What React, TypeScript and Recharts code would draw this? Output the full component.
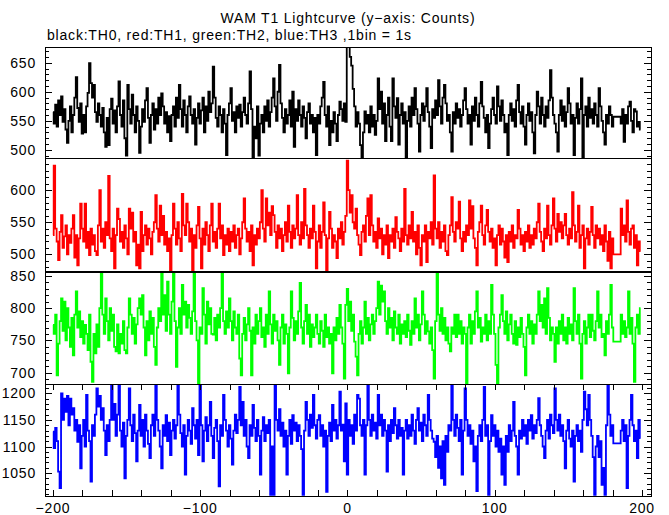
import React from 'react';
import { LineChart, Line, XAxis, YAxis } from 'recharts';

// WAM T1 lightcurve, 1 bin = 1 s, first bin at t = -200 s
const TIME_START = -200;

// black: TH0 counts
const TH0 = [
  565, 545, 578, 540, 585, 560, 592, 548, 570, 535, 512, 550, 575, 530, 560, 590, 625, 572, 548, 580,
  528, 560, 530, 575, 598, 649, 615, 590, 612, 565, 548, 580, 560, 540, 572, 530, 505, 555, 508, 570,
  588, 545, 568, 530, 575, 618, 560, 540, 585, 520, 490, 612, 570, 545, 595, 560, 530, 575, 550, 495,
  540, 570, 548, 585, 606, 555, 512, 560, 580, 535, 570, 545, 590, 560, 597, 575, 545, 565, 530, 558,
  515, 560, 575, 540, 590, 555, 612, 570, 540, 585, 560, 530, 575, 592, 560, 545, 570, 509, 555, 580,
  545, 568, 590, 530, 575, 550, 600, 565, 580, 643, 590, 555, 540, 575, 560, 530, 570, 545, 491, 560,
  580, 606, 550, 565, 530, 575, 555, 578, 540, 565, 590, 560, 545, 580, 635, 570, 486, 540, 520, 575,
  490, 545, 560, 530, 575, 550, 585, 540, 565, 590, 623, 575, 550, 600, 646, 580, 555, 530, 570, 545,
  560, 585, 540, 600, 505, 570, 550, 585, 560, 540, 575, 555, 520, 565, 580, 545, 560, 530, 555, 491,
  560, 545, 575, 590, 617, 560, 540, 575, 508, 550, 530, 565, 545, 515, 560, 583, 570, 550, 580, 548,
  695, 685, 660, 645, 605, 575, 540, 565, 545, 508, 486, 530, 566, 545, 560, 530, 575, 540, 560, 526,
  550, 623, 570, 600, 545, 580, 515, 560, 590, 540, 515, 623, 575, 555, 589, 509, 560, 580, 545, 565,
  486, 550, 575, 540, 590, 560, 606, 570, 545, 497, 560, 580, 550, 575, 606, 565, 540, 503, 570, 555,
  585, 560, 620, 575, 545, 590, 612, 580, 550, 560, 530, 497, 565, 545, 580, 555, 570, 540, 560, 585,
  606, 570, 545, 560, 509, 575, 550, 590, 560, 540, 580, 617, 575, 555, 530, 560, 503, 545, 570, 590,
  560, 545, 609, 575, 550, 585, 560, 530, 545, 491, 560, 580, 550, 570, 540, 585, 612, 565, 545, 575,
  540, 509, 560, 580, 550, 565, 530, 494, 560, 600, 575, 545, 590, 560, 540, 575, 555, 585, 637, 590,
  560, 545, 530, 497, 560, 585, 550, 575, 540, 565, 606, 580, 545, 560, 491, 555, 580, 545, 570, 623,
  486, 560, 575, 540, 590, 555, 570, 545, 580, 560, 540, 606, 575, 550, 530, 509, 560, 545, 575, 560,
  540, 557, 557, 557, 557, 557, 545, 570, 514, 560, 545, 575, 583, 550, 530, 570, 566, 540, 548, 535,
];

// red: TH1 counts
const TH1 = [
  530, 638, 540, 520, 491, 535, 561, 510, 528, 545, 500, 530, 518, 540, 561, 495, 530, 483, 525, 579,
  540, 520, 579, 510, 535, 499, 540, 515, 530, 505, 499, 545, 600, 520, 540, 510, 550, 530, 622, 525,
  505, 540, 478, 530, 571, 555, 520, 535, 510, 545, 525, 500, 571, 540, 565, 520, 535, 483, 515, 478,
  566, 505, 530, 545, 515, 540, 525, 500, 535, 550, 592, 540, 520, 576, 530, 560, 515, 535, 505, 525,
  473, 530, 579, 540, 515, 550, 525, 505, 594, 545, 530, 579, 550, 520, 540, 473, 530, 510, 545, 574,
  525, 478, 540, 515, 550, 530, 505, 545, 579, 520, 535, 510, 540, 579, 525, 545, 499, 530, 515, 540,
  505, 535, 520, 545, 510, 530, 540, 500, 525, 550, 587, 540, 520, 535, 505, 545, 483, 530, 515, 540,
  525, 550, 600, 540, 520, 587, 545, 565, 530, 575, 561, 535, 510, 545, 525, 540, 505, 530, 550, 520,
  576, 535, 510, 545, 525, 540, 592, 530, 515, 550, 525, 602, 545, 530, 510, 540, 525, 576, 535, 478,
  520, 545, 510, 535, 581, 530, 473, 525, 566, 540, 510, 530, 520, 494, 540, 525, 550, 515, 535, 560,
  646, 600, 565, 592, 550, 540, 571, 530, 515, 499, 535, 545, 520, 560, 587, 530, 592, 545, 520, 535,
  510, 556, 525, 540, 500, 530, 515, 545, 494, 530, 520, 540, 510, 558, 535, 525, 505, 540, 520, 602,
  530, 515, 545, 525, 566, 520, 535, 500, 545, 510, 483, 530, 520, 545, 488, 535, 525, 550, 515, 623,
  540, 525, 550, 510, 535, 520, 545, 505, 499, 530, 545, 589, 535, 520, 550, 540, 582, 525, 505, 535,
  520, 545, 530, 584, 540, 575, 525, 510, 483, 535, 550, 576, 530, 515, 545, 569, 535, 520, 540, 510,
  525, 483, 530, 545, 515, 540, 520, 495, 530, 488, 535, 520, 545, 510, 530, 525, 569, 540, 515, 530,
  505, 535, 520, 545, 510, 530, 515, 540, 525, 550, 579, 535, 520, 505, 540, 525, 576, 530, 515, 545,
  587, 540, 520, 563, 535, 550, 525, 545, 563, 530, 515, 540, 525, 597, 545, 520, 535, 576, 510, 530,
  545, 478, 525, 540, 515, 535, 574, 530, 510, 545, 525, 540, 515, 530, 505, 545, 520, 490, 535, 478,
  525, 500, 500, 500, 500, 500, 571, 530, 545, 520, 584, 535, 515, 540, 545, 510, 530, 483, 520, 505,
];

// green: TH2 counts
const TH2 = [
  774, 760, 790, 696, 745, 780, 815, 765, 810, 750, 800, 770, 740, 785, 727, 790, 826, 770, 795, 755,
  780, 745, 774, 760, 735, 790, 717, 686, 760, 730, 775, 740, 800, 857, 790, 760, 815, 780, 750, 800,
  765, 790, 740, 733, 775, 730, 760, 745, 780, 735, 730, 770, 815, 790, 760, 785, 745, 775, 800, 815,
  790, 820, 770, 727, 780, 750, 795, 760, 785, 740, 712, 770, 800, 780, 857, 790, 820, 765, 841, 790,
  760, 810, 857, 780, 709, 770, 800, 760, 836, 790, 810, 770, 805, 785, 760, 795, 857, 780, 750, 683,
  770, 760, 831, 790, 745, 810, 775, 800, 760, 759, 785, 750, 790, 770, 800, 857, 780, 760, 795, 770,
  815, 780, 750, 795, 770, 760, 790, 722, 696, 760, 785, 750, 775, 800, 765, 696, 770, 745, 790, 760,
  780, 800, 755, 770, 740, 790, 760, 826, 775, 745, 790, 765, 780, 750, 712, 770, 790, 745, 775, 760,
  699, 770, 826, 785, 750, 780, 760, 795, 839, 770, 745, 780, 805, 760, 790, 740, 775, 755, 770, 790,
  760, 745, 780, 765, 740, 790, 755, 770, 745, 760, 699, 770, 750, 785, 760, 805, 770, 745, 691, 805,
  830, 780, 810, 765, 790, 748, 725, 696, 760, 780, 745, 770, 810, 760, 785, 750, 775, 790, 760, 780,
  800, 841, 790, 835, 810, 826, 780, 760, 800, 770, 785, 750, 795, 770, 760, 790, 745, 775, 760, 780,
  755, 790, 765, 743, 780, 760, 815, 770, 790, 750, 775, 826, 790, 760, 780, 764, 745, 770, 735, 691,
  780, 857, 790, 765, 800, 760, 785, 750, 770, 745, 733, 770, 760, 790, 755, 790, 760, 780, 745, 770,
  760, 683, 770, 790, 745, 780, 760, 795, 826, 770, 785, 748, 770, 760, 790, 750, 780, 760, 836, 790,
  760, 712, 683, 770, 790, 820, 780, 760, 795, 750, 775, 790, 760, 745, 780, 743, 770, 755, 785, 760,
  740, 696, 770, 790, 760, 780, 745, 775, 760, 790, 826, 780, 805, 770, 815, 760, 831, 785, 750, 770,
  760, 717, 770, 745, 780, 760, 790, 750, 770, 745, 785, 760, 775, 750, 831, 780, 760, 790, 745, 691,
  760, 780, 745, 770, 790, 755, 790, 765, 750, 780, 826, 770, 790, 755, 760, 727, 780, 760, 790, 836,
  770, 748, 748, 748, 748, 748, 790, 760, 780, 755, 770, 826, 760, 785, 745, 686, 770, 790, 760, 800,
];

// blue: TH3 counts
const TH3 = [
  1128, 1097, 1135, 1110, 1053, 1022, 1200, 1150, 1190, 1165, 1195, 1140, 1190, 1160, 1172, 1130, 1150, 1109, 1140, 1059,
  1120, 1150, 1100, 1197, 1130, 1110, 1034, 1140, 1120, 1160, 1209, 1175, 1195, 1150, 1172, 1130, 1084, 1140, 1110, 1150,
  1216, 1150, 1180, 1120, 1160, 1216, 1130, 1100, 1145, 1040, 1120, 1150, 1209, 1140, 1110, 1160, 1125, 1072, 1130, 1178,
  1120, 1150, 1100, 1160, 1130, 1105, 1078, 1140, 1160, 1120, 1216, 1150, 1130, 1100, 1059, 1140, 1120, 1159, 1110, 1145,
  1084, 1130, 1150, 1115, 1140, 1216, 1160, 1125, 1100, 1140, 1047, 1120, 1150, 1130, 1105, 1172, 1140, 1115, 1150, 1084,
  1216, 1140, 1072, 1130, 1155, 1110, 1140, 1184, 1120, 1078, 1135, 1150, 1110, 1025, 1140, 1120, 1197, 1150, 1130, 1100,
  1140, 1115, 1066, 1130, 1160, 1125, 1150, 1212, 1140, 1184, 1120, 1150, 1100, 1078, 1140, 1120, 1178, 1135, 1110, 1150,
  1120, 1047, 1130, 1155, 1110, 1140, 1125, 1150, 1009, 1100, 1009, 1215, 1150, 1130, 1170, 1120, 1145, 1100, 1130, 1047,
  1120, 1150, 1105, 1159, 1130, 1145, 1110, 1140, 1120, 1095, 1009, 1130, 1184, 1150, 1120, 1160, 1135, 1197, 1140, 1115,
  1150, 1159, 1120, 1140, 1100, 1130, 1015, 1120, 1145, 1110, 1178, 1130, 1150, 1115, 1140, 1203, 1130, 1141, 1072, 1181,
  1047, 1150, 1120, 1140, 1105, 1160, 1130, 1197, 1190, 1140, 1120, 1150, 1047, 1140, 1216, 1150, 1120, 1160, 1130, 1145,
  1115, 1197, 1140, 1160, 1120, 1150, 1130, 1053, 1140, 1110, 1150, 1125, 1172, 1140, 1115, 1150, 1120, 1135, 1047, 1130,
  1150, 1115, 1140, 1120, 1160, 1130, 1105, 1150, 1172, 1130, 1145, 1110, 1160, 1140, 1120, 1197, 1150, 1130, 1115, 1109,
  1080, 1120, 1060, 1100, 1040, 1110, 1028, 1120, 1090, 1140, 1130, 1216, 1150, 1120, 1160, 1135, 1110, 1150, 1047, 1130,
  1209, 1150, 1120, 1140, 1105, 1130, 1072, 1100, 1016, 1120, 1140, 1110, 1150, 1212, 1120, 1140, 1009, 1110, 1159, 1120,
  1140, 1100, 1130, 1090, 1115, 1047, 1100, 1028, 1120, 1090, 1140, 1110, 1130, 1184, 1120, 1100, 1047, 1130, 1115, 1150,
  1120, 1140, 1105, 1150, 1130, 1159, 1115, 1140, 1125, 1150, 1191, 1140, 1120, 1100, 1078, 1130, 1150, 1115, 1160, 1140,
  1125, 1209, 1150, 1130, 1160, 1120, 1140, 1110, 1059, 1130, 1150, 1115, 1100, 1130, 1034, 1120, 1140, 1110, 1130, 1090,
  1150, 1203, 1170, 1140, 1197, 1150, 1120, 1080, 1009, 1100, 1120, 1080, 1110, 1028, 1060, 1009, 1140, 1216, 1160, 1120,
  1140, 1106, 1106, 1106, 1106, 1106, 1130, 1150, 1110, 1140, 1022, 1120, 1150, 1197, 1140, 1110, 1130, 1078, 1150, 1116,
];

const X_LABELS = [-200, -100, 0, 100, 200];
const Y_LABELS_TH0 = [500, 550, 600, 650];
const Y_LABELS_TH1 = [500, 550, 600];
const Y_LABELS_TH2 = [700, 750, 800, 850];
const Y_LABELS_TH3 = [1050, 1100, 1150, 1200];

const FONT = '"Liberation Sans", Arial, Helvetica, sans-serif';
const W = 669;
const PLOT_LEFT = 45;
const PLOT_RIGHT = 651;
const PAD = 10; // extra svg room above/below each panel for labels
const X_DOMAIN: [number, number] = [-205.4, 206.1];

const X_TICKS: number[] = [];
for (let t = -200; t <= 200; t += 20) X_TICKS.push(t);

const PANELS = [
  { name: 'TH0', values: TH0, color: '#000000', domain: [486, 677], labels: Y_LABELS_TH0, top: 47, bottom: 158 },
  { name: 'TH1', values: TH1, color: '#ff0000', domain: [472.5, 650], labels: Y_LABELS_TH1, top: 158, bottom: 272 },
  { name: 'TH2', values: TH2, color: '#00ff00', domain: [682.5, 856], labels: Y_LABELS_TH2, top: 272, bottom: 384 },
  { name: 'TH3', values: TH3, color: '#0000ff', domain: [1007, 1217.5], labels: Y_LABELS_TH3, top: 384, bottom: 496 },
];

const fmt = (v: number) => (v < 0 ? '\u2212' + Math.abs(v) : String(v));

const minorTicks = (domain: number[]) => {
  const out: number[] = [];
  for (let v = Math.ceil(domain[0] / 10) * 10; v <= domain[1]; v += 10) out.push(v);
  return out;
};

const YTick = (props: any) => {
  const { y, payload, labels } = props;
  const v = payload.value;
  const len = v % 50 === 0 ? 7 : 4;
  const yy = Math.round(y) + 0.5;
  return (
    <g>
      <line x1={PLOT_LEFT} x2={PLOT_LEFT + len} y1={yy} y2={yy} stroke="#000" />
      <line x1={PLOT_RIGHT - len} x2={PLOT_RIGHT} y1={yy} y2={yy} stroke="#000" />
      {labels.includes(v) && (
        <text x={36} y={y} textAnchor="end" dominantBaseline="central" fontFamily={FONT} fontSize={14} letterSpacing={0.8} fill="#000">
          {v}
        </text>
      )}
    </g>
  );
};

const XTick = (props: any) => {
  const { x, payload, panelH, showLabels, labelY } = props;
  const v = payload.value;
  const xx = Math.round(x) + 0.5;
  return (
    <g>
      <line x1={xx} x2={xx} y1={PAD} y2={PAD + 6} stroke="#000" />
      <line x1={xx} x2={xx} y1={PAD + panelH - 6} y2={PAD + panelH} stroke="#000" />
      {showLabels && X_LABELS.includes(v) && (
        <text x={x} y={labelY} textAnchor="middle" dominantBaseline="central" fontFamily={FONT} fontSize={14} letterSpacing={0.8} fill="#000">
          {fmt(v)}
        </text>
      )}
    </g>
  );
};

const Panel = ({ p, last }: { p: typeof PANELS[number]; last: boolean }) => {
  const data = p.values.map((v, i) => ({ t: TIME_START + i, v }));
  const panelH = p.bottom - p.top;
  const axisH = last ? 30 : 0;
  const height = PAD + panelH + (last ? axisH : PAD);
  const chartTop = p.top - PAD;
  return (
    <div style={{ position: 'absolute', left: 0, top: chartTop }}>
      <LineChart width={W} height={height} data={data} margin={{ top: PAD, right: W - PLOT_RIGHT, bottom: last ? 0 : PAD, left: 0 }}>
        <XAxis
          dataKey="t"
          type="number"
          domain={X_DOMAIN}
          allowDataOverflow
          ticks={X_TICKS}
          interval={0}
          height={axisH}
          axisLine={false}
          tickLine={false}
          tick={(tp: any) => <XTick {...tp} panelH={panelH} showLabels={last} labelY={508 - chartTop} />}
        />
        <YAxis
          type="number"
          domain={p.domain}
          allowDataOverflow
          ticks={minorTicks(p.domain)}
          interval={0}
          width={PLOT_LEFT}
          axisLine={false}
          tickLine={false}
          tick={(tp: any) => <YTick {...tp} labels={p.labels} />}
        />
        <Line type="step" dataKey="v" stroke={p.color} strokeWidth={1.8} dot={false} isAnimationActive={false} />
      </LineChart>
    </div>
  );
};

export default function App() {
  return (
    <div style={{ position: 'absolute', left: 0, top: 0, width: W, height: 515, background: '#fff', fontFamily: FONT, overflow: 'hidden' }}>
      {PANELS.map((p, i) => (
        <Panel key={p.name} p={p} last={i === PANELS.length - 1} />
      ))}
      {/* frame and panel separators */}
      <div style={{ position: 'absolute', left: 45, top: 47, width: 605, height: 448, border: '1px solid #000' }} />
      <div style={{ position: 'absolute', left: 45, top: 158, width: 607, height: 1, background: '#000' }} />
      <div style={{ position: 'absolute', left: 45, top: 271, width: 607, height: 2, background: '#000' }} />
      <div style={{ position: 'absolute', left: 45, top: 384, width: 607, height: 1, background: '#000' }} />
      <div style={{ position: 'absolute', left: 148, top: 10, width: 400, textAlign: 'center', fontSize: 14, lineHeight: '16px', letterSpacing: 0.8 }}>
        WAM T1 Lightcurve (y{'\u2212'}axis: Counts)
      </div>
      <div style={{ position: 'absolute', left: 47, top: 27, whiteSpace: 'nowrap', fontSize: 14, lineHeight: '16px', letterSpacing: 0.8 }}>
        black:TH0, red:TH1, green:TH2, blue:TH3 ,1bin = 1s
      </div>
    </div>
  );
}
